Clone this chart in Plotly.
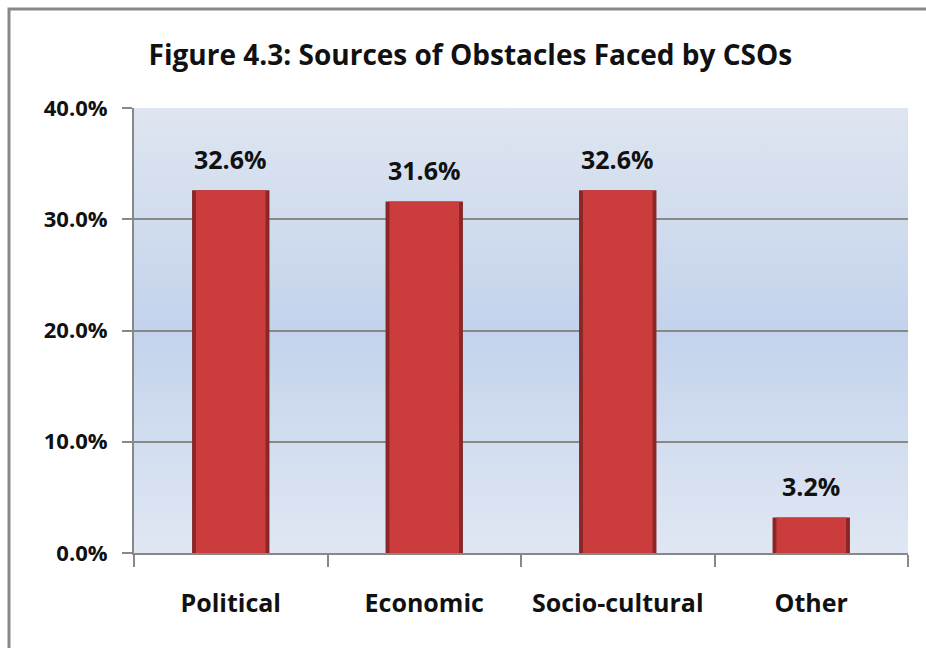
import plotly.graph_objects as go
import base64

categories = ["Political", "Economic", "Socio-cultural", "Other"]
values = [0.326, 0.316, 0.326, 0.032]
value_labels = ["32.6%", "31.6%", "32.6%", "3.2%"]
title_text = "Figure 4.3: Sources of Obstacles Faced by CSOs"

FONT = "Open Sans"

# gradient background for the plot area (style only)
svg = (
    '<svg xmlns="http://www.w3.org/2000/svg" width="100" height="100" preserveAspectRatio="none">'
    '<defs><linearGradient id="g" x1="0" y1="0" x2="0" y2="1">'
    '<stop offset="0" stop-color="#dee5f0"/>'
    '<stop offset="0.5" stop-color="#c3d3ec"/>'
    '<stop offset="1" stop-color="#e0e7f3"/>'
    '</linearGradient></defs>'
    '<rect width="100" height="100" fill="url(#g)"/></svg>'
)
bg_src = "data:image/svg+xml;base64," + base64.b64encode(svg.encode()).decode()

fig = go.Figure()
# dark bevel base
fig.add_trace(go.Bar(
    x=categories, y=values, width=0.40,
    marker=dict(color="#8a2626", line=dict(width=0)),
    hoverinfo="skip", showlegend=False,
))
# main face
fig.add_trace(go.Bar(
    x=categories, y=values, width=0.36,
    marker=dict(color="#cb3d3d", line=dict(width=0)),
    showlegend=False,
))

for c, v, t in zip(categories, values, value_labels):
    fig.add_annotation(
        x=c, y=v, text=t, showarrow=False, yanchor="bottom", yshift=12,
        font=dict(family=FONT, size=25, color="#111111", weight="bold"),
    )

fig.update_layout(
    width=926, height=648,
    margin=dict(l=134, r=18, t=108, b=95),
    paper_bgcolor="white",
    plot_bgcolor="rgba(0,0,0,0)",
    barmode="overlay",
    title=dict(
        text=title_text,
        x=0.508, xanchor="center", y=0.915, yanchor="middle",
        font=dict(family=FONT, size=28, color="#111111", weight="bold"),
    ),
    xaxis=dict(
        type="category",
        showgrid=False,
        showline=True, linecolor="#888888", linewidth=2,
        ticks="outside", tickson="boundaries", ticklen=12, tickcolor="#888888", tickwidth=2,
        tickfont=dict(family=FONT, size=25, color="#111111", weight="bold"),
        ticklabelstandoff=27,
        fixedrange=True,
    ),
    yaxis=dict(
        range=[0, 0.4], dtick=0.1, tickformat=".1%",
        showgrid=True, gridcolor="#888888", gridwidth=2,
        showline=True, linecolor="#888888", linewidth=2,
        ticks="outside", ticklen=10, tickcolor="#888888", tickwidth=2,
        tickfont=dict(family=FONT, size=22, color="#111111", weight="bold"),
        ticklabelstandoff=10,
        zeroline=False,
        fixedrange=True,
    ),
    images=[dict(
        source=bg_src, xref="paper", yref="paper", x=0, y=1,
        sizex=1, sizey=1, sizing="stretch", xanchor="left", yanchor="top",
        layer="below",
    )],
    shapes=[dict(
        type="rect", xref="paper", yref="paper",
        x0=-0.1615, x1=1.2, y0=-0.4, y1=1.2225,
        line=dict(color="#888888", width=3), fillcolor="rgba(0,0,0,0)",
        layer="above",
    )],
)

fig.write_html("out.html", config={"displayModeBar": False},
               post_script="document.body.style.margin='0';")
